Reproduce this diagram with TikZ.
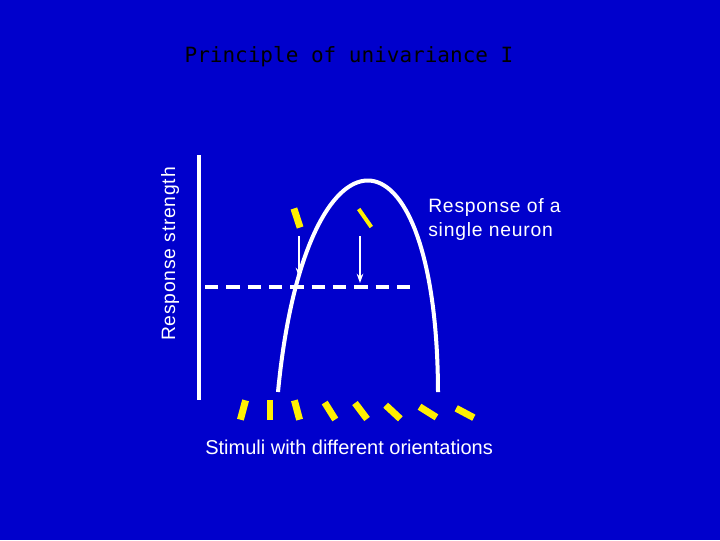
\documentclass[tikz,border=0pt]{standalone}
\usepackage{fontspec}
\setmainfont{Liberation Sans}
\newfontfamily\titlefont{DejaVu Sans Mono}
\newfontfamily\spacedfont[LetterSpace=4]{Liberation Sans}
\definecolor{bg}{RGB}{0,0,204}
\definecolor{yel}{RGB}{255,240,0}
\usetikzlibrary{arrows.meta}
\begin{document}
\begin{tikzpicture}[x=0.75pt,y=-0.75pt,
  bar/.style={yel,line width=5.2pt},
  thinbar/.style={yel,line width=3pt},
  wline/.style={white,line width=2.6pt},
  lbl/.style={text=white,font=\fontsize{15}{17}\selectfont,inner sep=0pt}]
\fill[bg] (0,0) rectangle (720,540);
\useasboundingbox (0,0) rectangle (720,540);
\node[text=black,font=\titlefont\fontsize{15.75}{18}\selectfont] (title) at (349,57) {Principle of univariance I};
% axis
\coordinate (ax1) at (199,155); \coordinate (ax2) at (199,400);
\draw[wline] (ax1) -- (ax2);
\node[lbl,rotate=90,font=\spacedfont\fontsize{14.5}{17}\selectfont] (ylab) at (170,254) {Response strength};
% dashed level
\coordinate (d1) at (205,287); \coordinate (d2) at (415,287);
\draw[wline,dash pattern=on 10pt off 6pt] (d1) -- (d2);
% curve
\coordinate (cL) at (278,392); \coordinate (cR) at (438,392);
\draw[wline,line width=3pt] (cL) .. controls (305,110) and (437,110) .. (cR);
% stimuli
\foreach \x/\y/\a [count=\i] in {243/410/-15,270/410/0,297/410/15,330/411/32,361/411/37,393/412/47,428/412/58,465/413/62}{
  \draw[bar] (\x,\y) ++({-10*sin(\a)},{-10*cos(\a)}) coordinate (b\i) -- ++({20*sin(\a)},{20*cos(\a)});
}
\draw[bar] (297,218) ++({-10*sin(18)},{-10*cos(18)}) coordinate (t1) -- ++({20*sin(18)},{20*cos(18)});
\draw[thinbar] (365,218) ++({-11*sin(35)},{-11*cos(35)}) coordinate (t2) -- ++({22*sin(35)},{22*cos(35)});
% arrows
\coordinate (a1) at (299,236); \coordinate (a1e) at (299,277);
\coordinate (a2) at (360,236); \coordinate (a2e) at (360,283);
\draw[white,line width=0.9pt,-{Stealth[length=7pt,width=5pt]}] (a1) -- (a1e);
\draw[white,line width=0.9pt,-{Stealth[length=7pt,width=5pt]}] (a2) -- (a2e);
% labels
\node[lbl,anchor=north west,align=left,font=\spacedfont\fontsize{14.5}{17}\selectfont] (resp) at (428,198) {Response of a\\[1pt]single neuron};
\node[lbl,anchor=west] (stim) at (205,447) {Stimuli with different orientations};
\end{tikzpicture}
\end{document}
